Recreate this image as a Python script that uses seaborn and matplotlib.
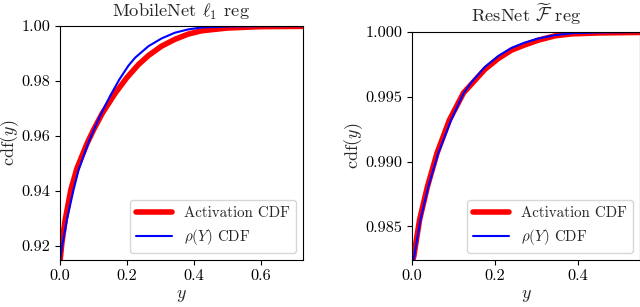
import matplotlib
matplotlib.use("Agg")
import matplotlib.pyplot as plt
import seaborn as sns

# values
mob_act_x = [0.0, 0.005, 0.015, 0.032, 0.05, 0.08, 0.0995, 0.127, 0.164, 0.199,
             0.234, 0.264, 0.303, 0.343, 0.383, 0.423, 0.5, 0.6, 0.725]
mob_act = [0.9149, 0.921, 0.9295, 0.9405, 0.9482, 0.9572, 0.9622, 0.9685, 0.9755, 0.9812,
           0.9860, 0.9893, 0.9927, 0.9952, 0.9971, 0.9983, 0.9993, 0.9998, 0.9999]
mob_rho_x = [0.0, 0.005, 0.02, 0.04, 0.0547, 0.085, 0.104, 0.124, 0.149, 0.177,
             0.204, 0.224, 0.264, 0.303, 0.343, 0.383, 0.423, 0.5, 0.6, 0.725]
mob_rho = [0.9149, 0.9195, 0.9295, 0.9405, 0.9475, 0.9578, 0.9632, 0.9685, 0.9745, 0.9806,
           0.9856, 0.9885, 0.9927, 0.9955, 0.9976, 0.9988, 0.9995, 0.99985, 0.99998, 1.0]

res_act_x = [0.0, 0.004, 0.018, 0.037, 0.06, 0.09, 0.124, 0.144, 0.176,
             0.208, 0.240, 0.272, 0.304, 0.345, 0.385, 0.45, 0.55]
res_act = [0.9822, 0.98269, 0.98552, 0.98808, 0.99065, 0.99321, 0.9953, 0.9960, 0.99713,
           0.99795, 0.9986, 0.9990, 0.99936, 0.9997, 0.99985, 0.99992, 0.99996]
res_rho_x = [0.0, 0.005, 0.02, 0.039, 0.063, 0.094, 0.124, 0.144, 0.176,
             0.208, 0.240, 0.272, 0.304, 0.345, 0.385, 0.45, 0.55]
res_rho = [0.9820, 0.98269, 0.98552, 0.98808, 0.99065, 0.99321, 0.99526, 0.99615, 0.99731,
           0.99815, 0.99877, 0.99918, 0.99949, 0.99975, 0.9999, 0.99996, 0.99999]

titles = [r"MobileNet $\ell_1$ reg", r"ResNet $\widetilde{\mathcal{F}}$ reg"]

sns.set_style("ticks")
plt.rcParams["font.family"] = ["serif"]
plt.rcParams["font.serif"] = ["cmr10", "DejaVu Serif"]
plt.rcParams["mathtext.fontset"] = "cm"
plt.rcParams["axes.unicode_minus"] = False
plt.rcParams["axes.formatter.use_mathtext"] = True
plt.rcParams["axes.edgecolor"] = "black"
plt.rcParams["xtick.color"] = "black"
plt.rcParams["ytick.color"] = "black"

fig = plt.figure(figsize=(6.4, 3.07), dpi=100)
ax1 = fig.add_axes([0.094, 0.153, 0.379, 0.762])
ax2 = fig.add_axes([0.644, 0.153, 0.356, 0.743])

panels = [
    (ax1, mob_act_x, mob_act, mob_rho_x, mob_rho, (0, 0.725), (0.9149, 1.0),
     [0.92, 0.94, 0.96, 0.98, 1.00], "{:.2f}", [0.0, 0.2, 0.4, 0.6]),
    (ax2, res_act_x, res_act, res_rho_x, res_rho, (0, 0.55), (0.9824, 1.0),
     [0.985, 0.990, 0.995, 1.000], "{:.3f}", [0.0, 0.2, 0.4]),
]

for i, (ax, ax_x, act, rx, rho, xl, yl, yt, fmt, xt) in enumerate(panels):
    sns.lineplot(x=ax_x, y=act, ax=ax, color="red", linewidth=4, label="Activation CDF",
                 sort=False, estimator=None)
    sns.lineplot(x=rx, y=rho, ax=ax, color="blue", linewidth=1.5, label=r"$\rho(Y)$ CDF",
                 sort=False, estimator=None)
    ax.set_xlim(*xl)
    ax.set_ylim(*yl)
    ax.set_yticks(yt)
    ax.set_yticklabels([fmt.format(v) for v in yt])
    ax.set_xticks(xt)
    ax.set_xticklabels([f"{v:.1f}" for v in xt])
    ax.tick_params(labelsize=11.7, direction="out", length=3.5, width=0.8)
    for s in ax.spines.values():
        s.set_visible(True)
        s.set_linewidth(0.8)
    ax.set_title(titles[i], fontsize=13.3, pad=7)
    ax.set_xlabel(r"$y$", fontsize=13, labelpad=3)
    ax.set_ylabel(r"$\mathrm{cdf}(y)$", fontsize=13, labelpad=0)
    ax.legend(loc="lower right", fontsize=10.8, framealpha=0.8, edgecolor="#cccccc",
              handlelength=2.4, borderaxespad=0.45)

fig.savefig("out.png", dpi=100)
